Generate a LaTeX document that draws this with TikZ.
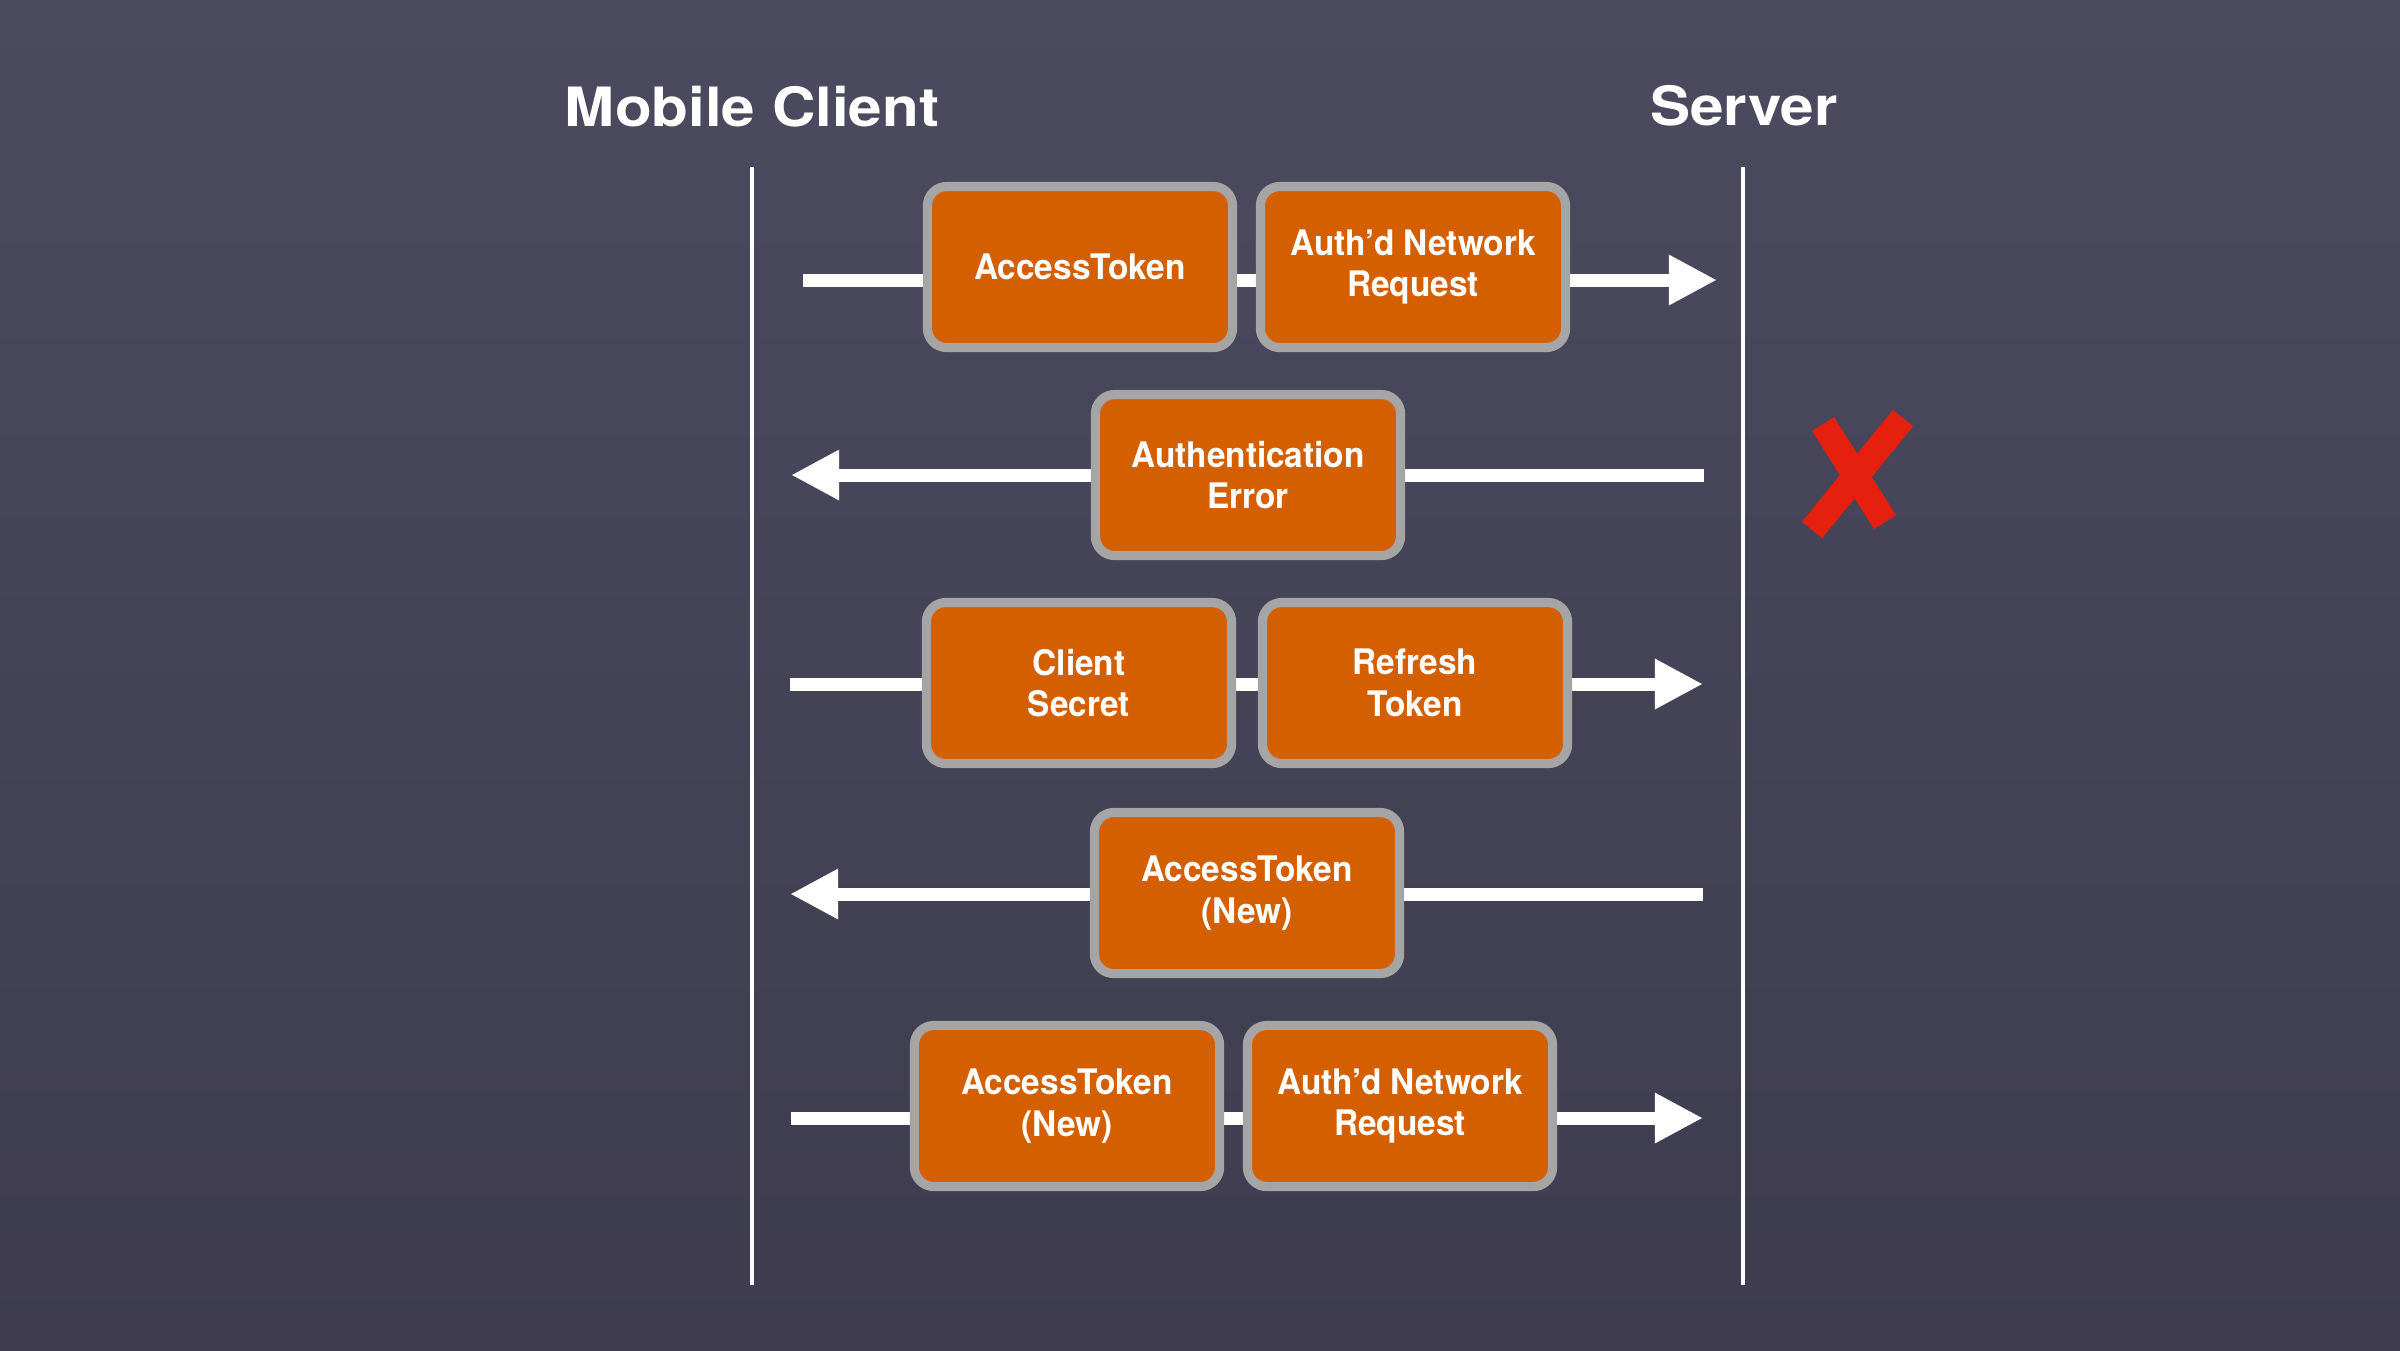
\documentclass[tikz,border=0pt]{standalone}
\usepackage{fontspec}
\setmainfont{TeX Gyre Heros}
\newfontfamily\titlefont[FakeStretch=1.11]{TeX Gyre Heros}
\newfontfamily\boxfont[FakeStretch=0.95]{TeX Gyre Heros}
\usetikzlibrary{arrows.meta}
\definecolor{bgtop}{HTML}{4B4A5F}
\definecolor{bgbottom}{HTML}{3E3C4E}
\definecolor{tokenfill}{HTML}{D45F00}
\definecolor{tokenrim}{HTML}{A5A5A5}
\definecolor{failred}{HTML}{E5200F}
\tikzset{
  token/.style = {draw=tokenrim,fill=tokenfill,line width=2.6pt,rounded corners=5.5pt,
    minimum width=3.05cm,minimum height=1.61cm,inner sep=0pt,align=center,
    text=white,font=\boxfont\bfseries\fontsize{10}{11.8}\selectfont},
  headline/.style = {text=white,font=\titlefont\bfseries\fontsize{15.4}{18}\selectfont},
  lane/.style = {draw=white,line width=1.4pt},
  msg/.style = {draw=white,line width=3.7pt}
}
\tikzset{>={Triangle[length=13.7pt,width=13.4pt]}}

\begin{document}
\begin{tikzpicture}[x=0.01cm,y=-0.01cm]
  \useasboundingbox (0,0) rectangle (2400,1350);
  \shade[top color=bgtop,bottom color=bgbottom] (0,0) rectangle (2400,1350);

  % the two sides
  \node[headline] (client) at (752,107) {Mobile Client};
  \node[headline] (server) at (1744,106) {Server};
  \coordinate (clienttop) at (752,167);
  \coordinate (clientbot) at (752,1285);
  \coordinate (servertop) at (1743,167);
  \coordinate (serverbot) at (1743,1285);
  \draw[lane] (clienttop) -- (clientbot);
  \draw[lane] (servertop) -- (serverbot);

  % messages
  \coordinate (r1a) at (803,280);   \coordinate (r1b) at (1717,280);
  \coordinate (r2a) at (1704,475);  \coordinate (r2b) at (791,475);
  \coordinate (r3a) at (790,684);   \coordinate (r3b) at (1703,684);
  \coordinate (r4a) at (1703,894);  \coordinate (r4b) at (790,894);
  \coordinate (r5a) at (791,1118);  \coordinate (r5b) at (1703,1118);
  \draw[msg,->] (r1a) -- (r1b);
  \draw[msg,->] (r2a) -- (r2b);
  \draw[msg,->] (r3a) -- (r3b);
  \draw[msg,->] (r4a) -- (r4b);
  \draw[msg,->] (r5a) -- (r5b);

  \node[token] (token1) at (1080,267) {AccessToken};
  \node[token] (request1) at (1413,267) {Auth’d Network\\Request};
  \node[token] (autherror) at (1248,475) {Authentication\\Error};
  \node[token] (secret) at (1079,683) {Client\\Secret};
  \node[token] (refresh) at (1415,683) {Refresh\\Token};
  \node[token] (token2) at (1247,893) {AccessToken\\(New)};
  \node[token] (token3) at (1067,1106) {AccessToken\\(New)};
  \node[token] (request2) at (1400,1106) {Auth’d Network\\Request};

  % rejected
  \draw[failred,line width=7.4pt] (1823,424) -- (1885,522) (1903,418) -- (1812,530);
\end{tikzpicture}
\end{document}
